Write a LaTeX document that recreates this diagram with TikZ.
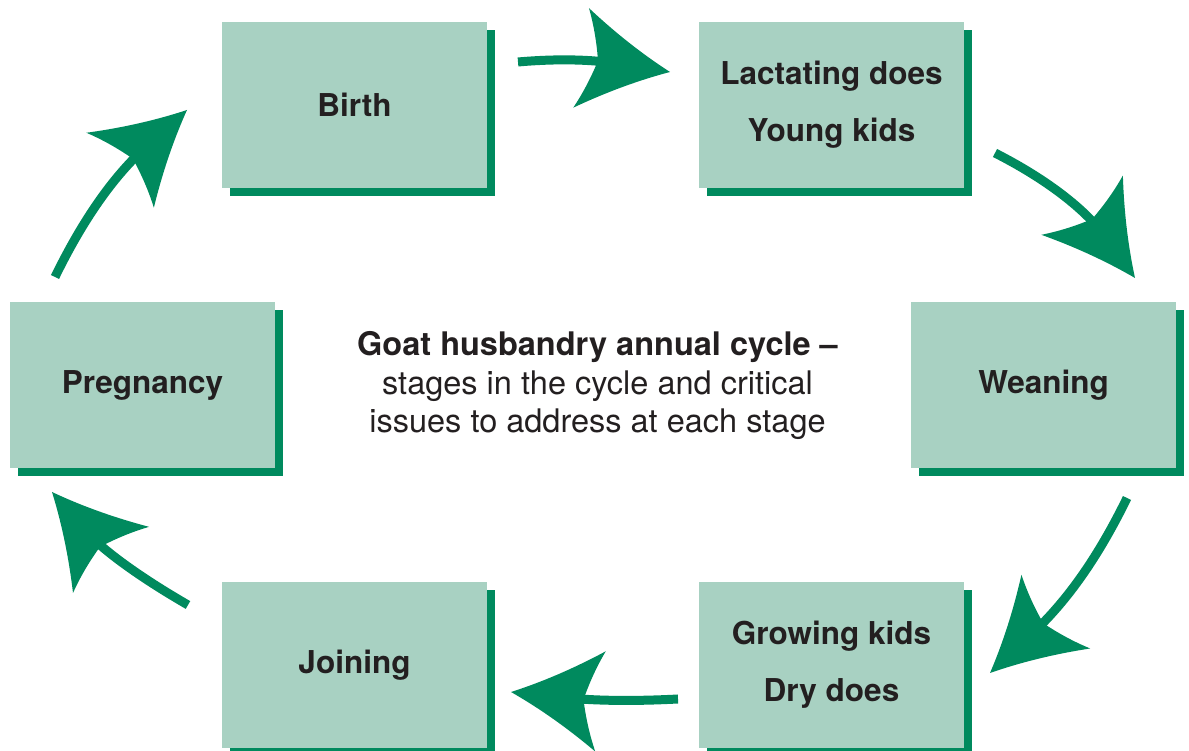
\documentclass[tikz,border=0pt]{standalone}
\usepackage{fontspec}
\setmainfont{TeX Gyre Heros}
\usetikzlibrary{arrows.meta,shadows}

\definecolor{goatlight}{HTML}{A8D1C2}
\definecolor{goatgreen}{HTML}{008A5E}
\definecolor{goatink}{HTML}{231F20}

% concave arrow head used on the cycle arrows
\pgfdeclarearrow{
  name = Swoop,
  parameters = {\the\pgfarrowlength},
  setup code = {
    \pgfarrowssettipend{0pt}
    \pgfarrowssetlineend{-0.6\pgfarrowlength}
    \pgfarrowsupperhullpoint{0pt}{0pt}
    \pgfarrowsupperhullpoint{-\pgfarrowlength}{0.56\pgfarrowlength}
    \pgfarrowssavethe\pgfarrowlength
  },
  drawing code = {
    \pgfpathmoveto{\pgfpointorigin}
    \pgfpathquadraticcurveto{\pgfqpoint{-0.5\pgfarrowlength}{0.22\pgfarrowlength}}{\pgfqpoint{-\pgfarrowlength}{0.56\pgfarrowlength}}
    \pgfpathquadraticcurveto{\pgfqpoint{-0.88\pgfarrowlength}{0.3\pgfarrowlength}}{\pgfqpoint{-0.81\pgfarrowlength}{0pt}}
    \pgfpathquadraticcurveto{\pgfqpoint{-0.88\pgfarrowlength}{-0.3\pgfarrowlength}}{\pgfqpoint{-\pgfarrowlength}{-0.56\pgfarrowlength}}
    \pgfpathquadraticcurveto{\pgfqpoint{-0.5\pgfarrowlength}{-0.22\pgfarrowlength}}{\pgfpointorigin}
    \pgfpathclose
    \pgfusepathqfill
  },
  defaults = {length = 90pt}
}

\tikzset{
  stage/.style={rectangle, fill=goatlight, minimum width=265pt, minimum height=166pt,
    inner sep=0pt, align=center, text=goatink,
    font=\fontsize{31.5}{57}\selectfont\bfseries,
    general shadow={fill=goatgreen, shadow xshift=8pt, shadow yshift=-8pt}},
  cyclearrow/.style={draw=goatgreen, line width=9pt, -{Swoop[length=90pt]}},
}

\begin{document}
\begin{tikzpicture}[x=1pt,y=1pt]
\useasboundingbox (0,0) rectangle (1189,751);
% Stages of the year
\node[stage] (birth) at (354.5,646) {Birth};
\node[stage] (lact) at (831.5,646) {Lactating does\\Young kids};
\node[stage] (wean) at (1043.5,366) {Weaning};
\node[stage] (grow) at (831.5,86) {Growing kids\\Dry does};
\node[stage] (join) at (354.5,86) {Joining};
\node[stage] (preg) at (142.5,366) {Pregnancy};
% Title in the middle
\node[font=\fontsize{32.5}{38.5}\selectfont, text=goatink, align=center] (title) at (597.5,365)
  {\textbf{Goat husbandry annual cycle --}\\stages in the cycle and critical\\issues to address at each stage};
% Arrow ends
\coordinate (s1) at (518,689);  \coordinate (e1) at (670,679);
\coordinate (s2) at (995,598);  \coordinate (e2) at (1135,473);
\coordinate (s3) at (1127,253); \coordinate (e3) at (990,78);
\coordinate (s4) at (678,52);   \coordinate (e4) at (511,59);
\coordinate (s5) at (188,146);  \coordinate (e5) at (52,259);
\coordinate (s6) at (55,474);   \coordinate (e6) at (187,641);
% Arrows round the cycle
\foreach \n/\o/\i in {1/5/171, 2/-27/126, 3/244/43, 4/183/354, 5/150/311, 6/64/222} {
  \draw[cyclearrow] (s\n) to[out=\o,in=\i] (e\n);
}
\end{tikzpicture}
\end{document}
